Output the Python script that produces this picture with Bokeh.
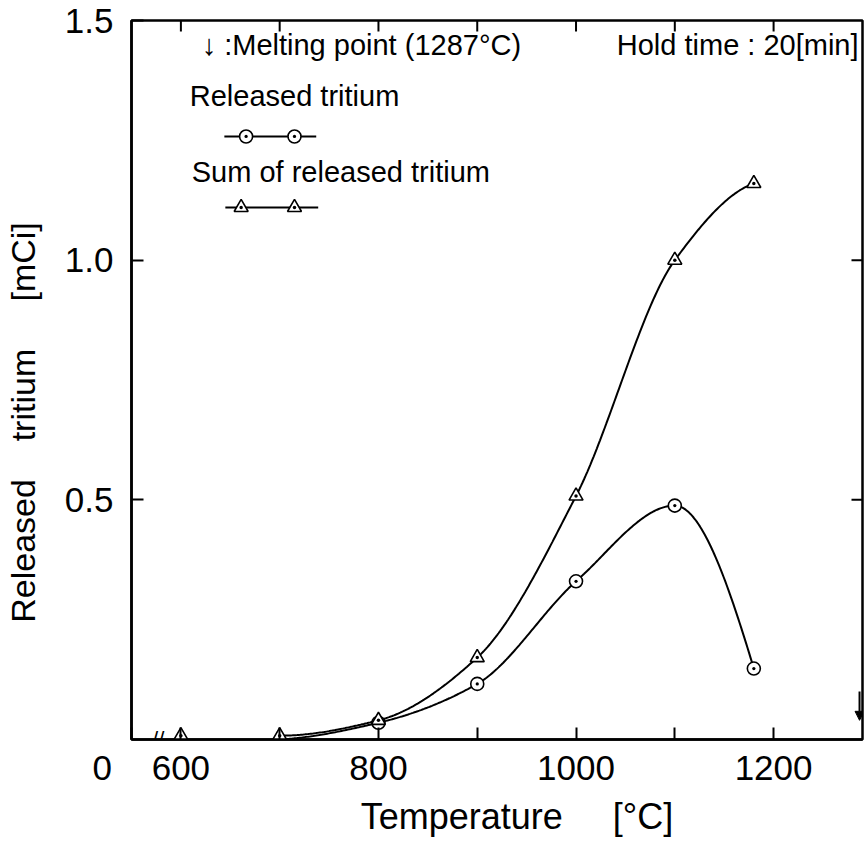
import numpy as np
from bokeh.plotting import figure
from bokeh.models import Range1d, FixedTicker, Label, Arrow, NormalHead
from bokeh.embed import file_html
from bokeh.resources import INLINE

# ---------------- data ----------------
temp_sum = [600, 700, 800, 900, 1000, 1100, 1180]
sum_released = [0.008, 0.008, 0.04, 0.171, 0.508, 1.0, 1.16]
temp_released = [700, 800, 900, 1000, 1100, 1180]
released = [0.0, 0.035, 0.116, 0.33, 0.488, 0.148]
x_break_start = 550          # left edge of the broken temperature axis ("0")
x_tick_values = [x_break_start, 600, 800, 1000, 1200]
x_tick_labels = ["0", "600", "800", "1000", "1200"]
x_minor_ticks = [700, 900, 1100]
y_tick_values = [0.5, 1.0, 1.5]
y_tick_labels = ["0.5", "1.0", "1.5"]
y_right_ticks = [0.5, 1.0]
melting_point = 1287
x_title = "Temperature"
x_unit = "[°C]"
y_title_words = ["Released", "tritium", "[mCi]"]
melt_text = "↓ :Melting point (1287°C)"
hold_text = "Hold time : 20[min]"
legend_released = "Released tritium"
legend_sum = "Sum of released tritium"

FONT = "Liberation Sans"
NB = "\u00a0"


def pchip(xs, ys, n=300):
    """Shape preserving cubic through the data points (for drawing the smooth curves)."""
    x = np.asarray(xs, float)
    y = np.asarray(ys, float)
    h = np.diff(x)
    d = np.diff(y) / h
    m = np.zeros_like(y)
    for k in range(1, len(x) - 1):
        if d[k - 1] * d[k] <= 0:
            m[k] = 0.0
        else:
            w1 = 2 * h[k] + h[k - 1]
            w2 = h[k] + 2 * h[k - 1]
            m[k] = (w1 + w2) / (w1 / d[k - 1] + w2 / d[k])

    def end(h0, h1, d0, d1):
        s = ((2 * h0 + h1) * d0 - h0 * d1) / (h0 + h1)
        if np.sign(s) != np.sign(d0):
            return 0.0
        if np.sign(d0) != np.sign(d1) and abs(s) > abs(3 * d0):
            return 3 * d0
        return s

    m[0] = end(h[0], h[1], d[0], d[1])
    m[-1] = end(h[-1], h[-2], d[-1], d[-2])
    xx = np.linspace(x[0], x[-1], n)
    idx = np.clip(np.searchsorted(x, xx) - 1, 0, len(h) - 1)
    t = (xx - x[idx]) / h[idx]
    h00 = 2 * t**3 - 3 * t**2 + 1
    h10 = t**3 - 2 * t**2 + t
    h01 = -2 * t**3 + 3 * t**2
    h11 = t**3 - t**2
    yy = h00 * y[idx] + h10 * h[idx] * m[idx] + h01 * y[idx + 1] + h11 * h[idx] * m[idx + 1]
    return xx, yy


X0, X1 = x_break_start, 1290
Y0, Y1 = 0.0, 1.5
p = figure(width=867, height=849,
           x_range=Range1d(X0, X1), y_range=Range1d(Y0, Y1),
           output_backend="svg", toolbar_location=None,
           min_border_left=130, min_border_right=5,
           min_border_top=20, min_border_bottom=110)
p.background_fill_color = "white"
p.border_fill_color = "white"
p.xgrid.visible = False
p.ygrid.visible = False
p.outline_line_color = "black"
p.outline_line_width = 2.5

# bottom axis
labels_x = dict(zip(x_tick_values, x_tick_labels))
labels_x[x_break_start] = x_tick_labels[0] + NB * 6   # push the origin "0" to the left of the corner
xa = p.xaxis[0]
xa.ticker = FixedTicker(ticks=x_tick_values, minor_ticks=x_minor_ticks)
xa.major_label_overrides = labels_x
xa.major_tick_in = 12
xa.major_tick_out = 0
xa.minor_tick_in = 12
xa.minor_tick_out = 0
xa.major_tick_line_width = 2
xa.minor_tick_line_width = 2
xa.axis_line_width = 2.5
xa.major_label_text_font = FONT
xa.major_label_text_font_size = "35px"
xa.major_label_text_color = "black"
xa.major_label_standoff = 8
xa.axis_label = NB * 4 + x_title + NB * 5 + x_unit
xa.axis_label_text_font = FONT
xa.axis_label_text_font_size = "36px"
xa.axis_label_text_font_style = "normal"
xa.axis_label_text_color = "black"
xa.axis_label_standoff = 6

# left axis
ya = p.yaxis[0]
ya.ticker = FixedTicker(ticks=y_tick_values)
ya.major_label_overrides = dict(zip(y_tick_values, y_tick_labels))
ya.major_tick_in = 12
ya.major_tick_out = 0
ya.minor_tick_in = 0
ya.minor_tick_out = 0
ya.major_tick_line_width = 2
ya.axis_line_width = 2.5
ya.major_label_text_font = FONT
ya.major_label_text_font_size = "35px"
ya.major_label_text_color = "black"
ya.major_label_standoff = 18
ya.axis_label = y_title_words[0] + NB * 4 + y_title_words[1] + NB * 5 + y_title_words[2] + NB * 9
ya.axis_label_text_font = FONT
ya.axis_label_text_font_size = "34px"
ya.axis_label_text_font_style = "normal"
ya.axis_label_text_color = "black"
ya.axis_label_standoff = 20

# inward ticks on the top edge (every 100 degC) and right edge, clipped to the frame
top_ticks = sorted(x_tick_values[1:] + x_minor_ticks)
p.scatter(top_ticks, [Y1] * len(top_ticks), marker="dash", angle=np.pi / 2, size=22,
          line_color="black", line_width=2)
p.scatter([X1] * len(y_right_ticks), y_right_ticks, marker="dash", size=22,
          line_color="black", line_width=2)

# curves
sx, sy = pchip(temp_sum[1:], sum_released[1:])
p.line(sx, sy, line_color="black", line_width=2)
rx, ry = pchip(temp_released, released)
p.line(rx, ry, line_color="black", line_width=2)

# markers
p.scatter(temp_released[1:], released[1:], marker="circle_dot", size=13,
          fill_color="white", line_color="black", line_width=1.6)
p.scatter(temp_sum, sum_released, marker="triangle_dot", size=14,
          fill_color="white", line_color="black", line_width=1.6)

# melting point arrow
p.add_layout(Arrow(end=NormalHead(size=9, fill_color="black", line_color="black"),
                   x_start=melting_point, y_start=0.10, x_end=melting_point, y_end=0.04,
                   line_color="black", line_width=2))

# axis break mark
p.add_layout(Label(x=577, y=0, text="//", text_font=FONT, text_font_size="22px",
                   text_align="center", text_baseline="middle", text_color="black"))

# annotation texts
p.add_layout(Label(x=621, y=1.448, text=melt_text, text_font=FONT, text_font_size="29px",
                   text_align="left", text_baseline="middle", text_color="black"))
p.add_layout(Label(x=1286, y=1.448, text=hold_text, text_font=FONT, text_font_size="29px",
                   text_align="right", text_baseline="middle", text_color="black"))
p.add_layout(Label(x=609, y=1.342, text=legend_released, text_font=FONT, text_font_size="29px",
                   text_align="left", text_baseline="middle", text_color="black"))
p.add_layout(Label(x=611, y=1.183, text=legend_sum, text_font=FONT, text_font_size="29px",
                   text_align="left", text_baseline="middle", text_color="black"))

# legend samples
p.line([644, 737], [1.258, 1.258], line_color="black", line_width=2)
p.scatter([666, 715], [1.258, 1.258], marker="circle_dot", size=13,
          fill_color="white", line_color="black", line_width=1.6)
p.line([645, 739], [1.110, 1.110], line_color="black", line_width=2)
p.scatter([661, 715], [1.110, 1.110], marker="triangle_dot", size=14,
          fill_color="white", line_color="black", line_width=1.6)

open("out.html", "w").write(file_html(p, INLINE))
